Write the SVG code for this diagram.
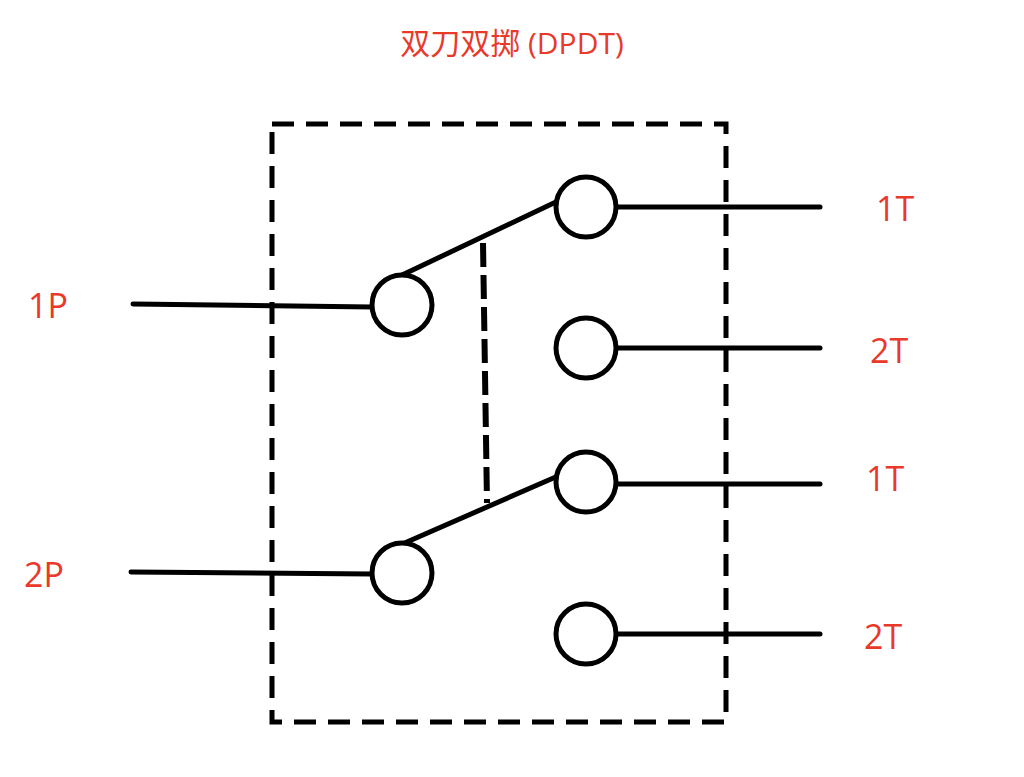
<svg xmlns="http://www.w3.org/2000/svg" width="1024" height="777" viewBox="0 0 1024 777">
<style>
.l{stroke:#000;stroke-width:5;fill:none;stroke-linecap:round}
.c{stroke:#000;stroke-width:5;fill:#fff}
.t{fill:#e8392b;font-family:"Open Sans","Noto Sans CJK SC",sans-serif;font-size:34px;font-weight:500;dominant-baseline:central}
</style>
<rect width="1024" height="777" fill="#fff"/>
<text class="t" x="512" y="42" text-anchor="middle" style="font-size:30px;font-weight:400">双刀双掷 (DPDT)</text>
<rect x="272" y="124" width="454" height="598" fill="none" stroke="#000" stroke-width="5" stroke-dasharray="22,12"/>
<g id="connectors">
<line class="l" x1="133" y1="304" x2="372" y2="307"/>
<line class="l" x1="131" y1="572" x2="372" y2="574"/>
<line class="l" x1="616" y1="207" x2="820" y2="207"/>
<line class="l" x1="616" y1="348" x2="820" y2="348"/>
<line class="l" x1="616" y1="484" x2="820" y2="484"/>
<line class="l" x1="616" y1="634" x2="820" y2="634"/>
<line class="l" x1="400" y1="276" x2="558" y2="201"/>
<line class="l" x1="400" y1="545" x2="558" y2="476"/>
<line x1="483" y1="243" x2="487" y2="503" stroke="#000" stroke-width="6" stroke-dasharray="24,8"/>
</g>
<g id="p1"><circle class="c" cx="402" cy="305" r="30"/></g>
<g id="p2"><circle class="c" cx="402" cy="573" r="30"/></g>
<g id="t1a"><circle class="c" cx="586" cy="207" r="30"/></g>
<g id="t2a"><circle class="c" cx="586" cy="348" r="30"/></g>
<g id="t1b"><circle class="c" cx="586" cy="482" r="30"/></g>
<g id="t2b"><circle class="c" cx="586" cy="634" r="30"/></g>
<text class="t" x="28" y="305">1P</text>
<text class="t" x="24" y="574">2P</text>
<text class="t" x="876" y="208">1T</text>
<text class="t" x="870" y="350">2T</text>
<text class="t" x="866" y="478">1T</text>
<text class="t" x="864" y="636">2T</text>
</svg>
